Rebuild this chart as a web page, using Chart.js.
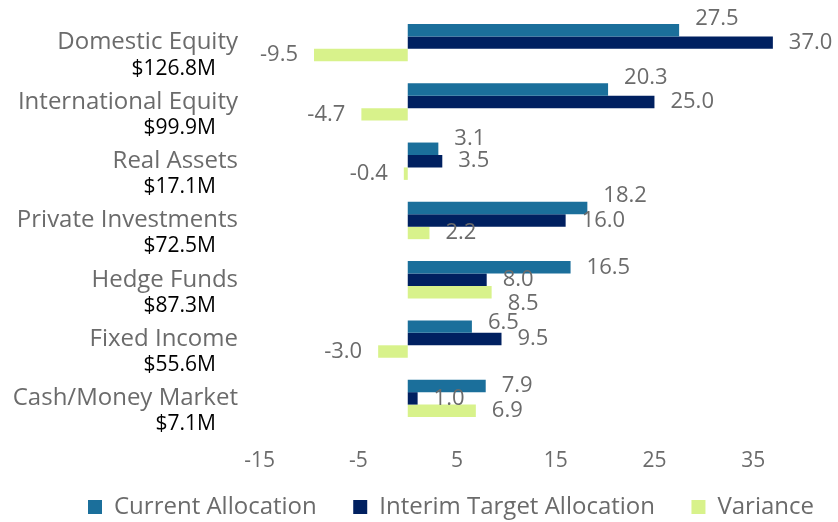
<!DOCTYPE html>
<html>
<head>
<meta charset="utf-8">
<title>Asset Allocation</title>
<script src="https://cdn.jsdelivr.net/npm/chart.js@4/dist/chart.umd.min.js"></script>
<style>
  html, body { margin: 0; padding: 0; background: #fff; }
  #wrap { width: 838px; height: 522px; }
</style>
</head>
<body>
<div id="wrap"><canvas id="graficoAlocacao" width="838" height="522"></canvas></div>
<script>
// ---------- Data ----------
const categories = ['Domestic Equity', 'International Equity', 'Real Assets', 'Private Investments',
    'Hedge Funds', 'Fixed Income', 'Cash/Money Market'];
const marketValues = ['$126.8M', '$99.9M', '$17.1M', '$72.5M', '$87.3M', '$55.6M', '$7.1M'];
const currentAllocation = [27.5, 20.3, 3.1, 18.2, 16.5, 6.5, 7.9];
const targetAllocation = [37.0, 25.0, 3.5, 16.0, 8.0, 9.5, 1.0];
const variance = [-9.5, -4.7, -0.4, 2.2, 8.5, -3.0, 6.9];
const xTicks = [-15, -5, 5, 15, 25, 35];

const FONT = '"Open Sans", "Liberation Sans", Arial, sans-serif';
const GREY = '#6b6b6b';

// small vertical nudges for value labels (dataset index -> {category index: px})
const labelNudge = {
    0: { 0: -11, 1: -12, 2: -10, 3: -12, 5: -4 },
    2: { 4: 11 }
};

// ---------- Plugins ----------
// two-line category labels: name in grey, market value in black underneath
const categoryLabels = {
    id: 'categoryLabels',
    afterDraw(chart) {
        const y = chart.scales.y;
        const ctx = chart.ctx;
        ctx.save();
        ctx.textAlign = 'right';
        ctx.textBaseline = 'middle';
        categories.forEach(function (name, i) {
            const py = y.getPixelForTick(i);
            ctx.font = '24px ' + FONT;
            ctx.fillStyle = GREY;
            ctx.fillText(name, y.right - 2, py);
            ctx.font = '21px ' + FONT;
            ctx.fillStyle = '#000';
            ctx.fillText(marketValues[i], y.right - 24, py + 26);
        });
        ctx.restore();
    }
};

// value labels at the end of each bar
const valueLabels = {
    id: 'valueLabels',
    afterDatasetsDraw(chart) {
        const ctx = chart.ctx;
        ctx.save();
        ctx.font = '22px ' + FONT;
        ctx.fillStyle = GREY;
        ctx.textBaseline = 'middle';
        chart.data.datasets.forEach(function (ds, di) {
            const meta = chart.getDatasetMeta(di);
            meta.data.forEach(function (bar, i) {
                const v = ds.data[i];
                const nudge = (labelNudge[di] && labelNudge[di][i]) || 0;
                if (v >= 0) {
                    ctx.textAlign = 'left';
                    ctx.fillText(v.toFixed(1), bar.x + 16, bar.y + nudge);
                } else {
                    ctx.textAlign = 'right';
                    ctx.fillText(v.toFixed(1), bar.x - 16, bar.y + nudge);
                }
            });
        });
        ctx.restore();
    }
};

// ---------- Chart ----------
const ctx = document.getElementById('graficoAlocacao').getContext('2d');
new Chart(ctx, {
    type: 'bar',
    data: {
        labels: categories,
        datasets: [
            { label: 'Current Allocation', data: currentAllocation, backgroundColor: '#1b6f9b', borderWidth: 0 },
            { label: 'Interim Target Allocation', data: targetAllocation, backgroundColor: '#002060', borderWidth: 0 },
            { label: 'Variance', data: variance, backgroundColor: '#d8f28b', borderWidth: 0 }
        ]
    },
    options: {
        indexAxis: 'y',
        responsive: false,
        animation: false,
        categoryPercentage: 0.63,
        barPercentage: 1.0,
        layout: { padding: { top: 13, right: 0, bottom: -7, left: 40 } },
        scales: {
            x: {
                type: 'linear',
                min: -17,
                max: 43.6,
                grid: { display: false, drawTicks: false },
                border: { display: false },
                afterBuildTicks: function (scale) {
                    scale.ticks = xTicks.map(v => ({ value: v }));
                },
                afterFit: function (scale) { scale.height = 43; },
                ticks: {
                    padding: 20,
                    color: GREY,
                    font: { family: FONT, size: 21 },
                    callback: v => String(v)
                }
            },
            y: {
                grid: { display: false, drawTicks: false },
                border: { display: false },
                ticks: { display: false },
                afterFit: function (scale) { scale.width = 200; }
            }
        },
        plugins: {
            legend: {
                position: 'bottom',
                align: 'end',
                labels: {
                    boxWidth: 14,
                    boxHeight: 14,
                    padding: 24,
                    color: GREY,
                    font: { family: FONT, size: 24 },
                    // a little extra room after the first two entries
                    generateLabels: function (chart) {
                        const items = Chart.defaults.plugins.legend.labels.generateLabels(chart);
                        items.forEach(function (it, i) {
                            if (i < items.length - 1) it.text = it.text + '  ';
                        });
                        return items;
                    }
                }
            },
            tooltip: { enabled: false }
        }
    },
    plugins: [categoryLabels, valueLabels]
});
</script>
</body>
</html>
